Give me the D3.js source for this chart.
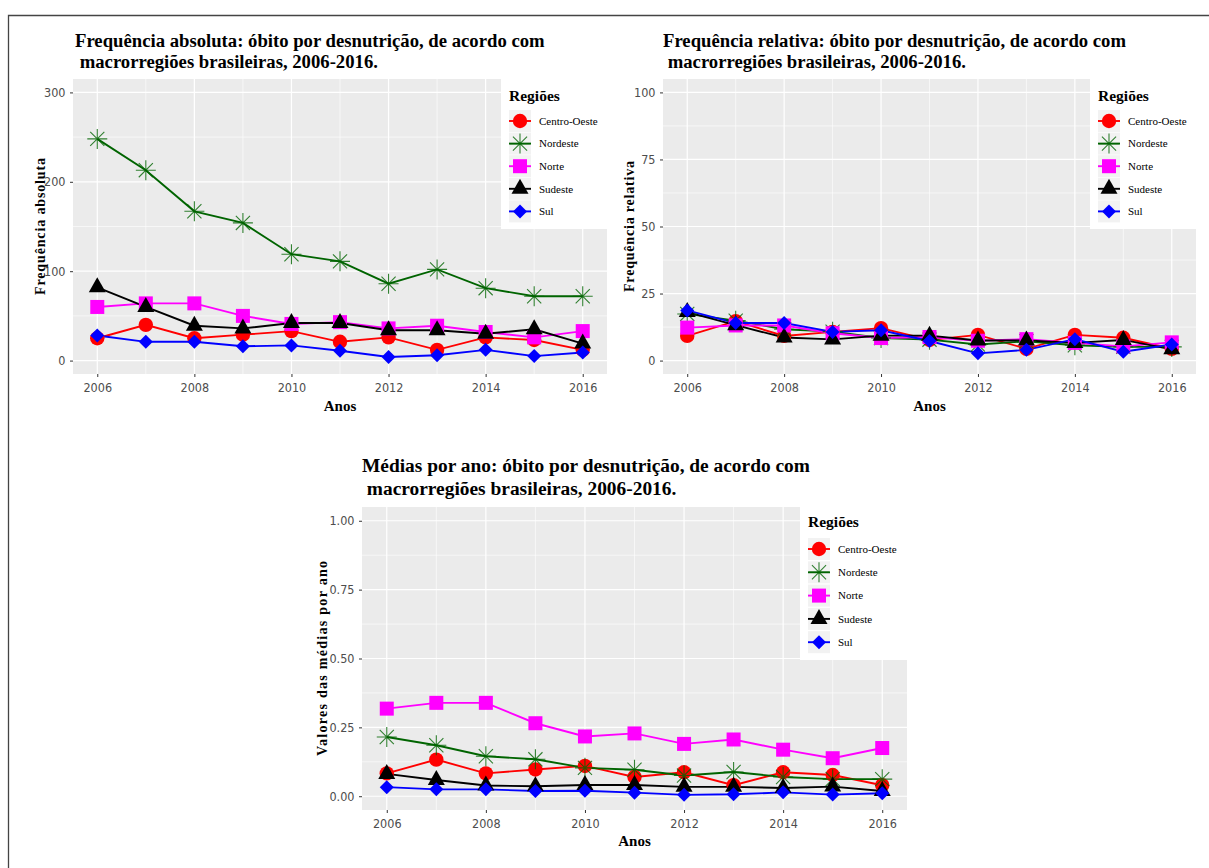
<!DOCTYPE html>
<html>
<head>
<meta charset="utf-8">
<script src="https://cdn.jsdelivr.net/npm/d3@7"></script>
<style>
  body { margin: 0; background: #ffffff; }
  svg { display: block; }
</style>
</head>
<body>
<svg id="fig" width="1209" height="868"></svg>
<script>
// ---- Dados ----
const anos = [2006, 2007, 2008, 2009, 2010, 2011, 2012, 2013, 2014, 2015, 2016];
const regioes = ["Centro-Oeste", "Nordeste", "Norte", "Sudeste", "Sul"];

// Frequência absoluta de óbitos
const absCentroOeste = [25, 40, 25, 29, 33, 21, 26, 12, 26, 23, 12];
const absNordeste    = [248, 213, 167, 154, 119, 111, 86, 102, 81, 72, 72];
const absNorte       = [60, 64, 64, 50, 41, 43, 36, 39, 32, 26, 33];
const absSudeste     = [82, 60, 39, 36, 42, 42, 34, 34, 30, 35, 19];
const absSul         = [28, 21, 21, 16, 17, 11, 4, 6, 12, 5, 9];

// Frequência relativa (%)
const relCentroOeste = [9.2, 14.7, 9.2, 10.7, 12.1, 7.7, 9.6, 4.4, 9.6, 8.5, 4.4];
const relNordeste    = [17.4, 14.9, 11.7, 10.8, 8.4, 7.8, 6.0, 7.2, 5.7, 5.1, 5.1];
const relNorte       = [12.3, 13.1, 13.1, 10.2, 8.4, 8.8, 7.4, 8.0, 6.6, 5.3, 6.8];
const relSudeste     = [18.1, 13.2, 8.6, 7.9, 9.3, 9.3, 7.5, 7.5, 6.6, 7.7, 4.2];
const relSul         = [18.7, 14.0, 14.0, 10.7, 11.3, 7.3, 2.7, 4.0, 8.0, 3.3, 6.0];

// Médias por ano
const medCentroOeste = [0.083, 0.133, 0.083, 0.097, 0.110, 0.070, 0.087, 0.040, 0.087, 0.077, 0.040];
const medNordeste    = [0.215, 0.185, 0.145, 0.134, 0.103, 0.096, 0.075, 0.088, 0.070, 0.062, 0.062];
const medNorte       = [0.318, 0.339, 0.339, 0.265, 0.217, 0.228, 0.190, 0.206, 0.169, 0.138, 0.175];
const medSudeste     = [0.081, 0.059, 0.039, 0.036, 0.041, 0.041, 0.034, 0.034, 0.030, 0.035, 0.019];
const medSul         = [0.033, 0.025, 0.025, 0.019, 0.020, 0.013, 0.005, 0.007, 0.014, 0.006, 0.011];

// Rótulos dos eixos
const ticksAnos = [2006, 2008, 2010, 2012, 2014, 2016];
const ticksAbs  = [0, 100, 200, 300];
const ticksRel  = [0, 25, 50, 75, 100];
const ticksMed  = [0, 0.25, 0.5, 0.75, 1];

// ---- Estilo ----
const cor = d3.scaleOrdinal().domain(regioes)
  .range(["#FF0000", "#006400", "#FF00FF", "#000000", "#0000FF"]);
const forma = d3.scaleOrdinal().domain(regioes)
  .range(["circle", "asterisk", "square", "triangle", "diamond"]);

const SERIF = "'Liberation Serif', 'Times New Roman', serif";
const NARROW = "'Liberation Sans Narrow', 'DejaVu Sans Condensed', 'Arial Narrow', sans-serif";

const svg = d3.select("#fig");

// moldura externa
svg.append("path")
  .attr("d", "M8.5,868 V15.5 H1209")
  .attr("fill", "none").attr("stroke", "#444").attr("stroke-width", 1.3);

function marcador(g, tipo, cx, cy, c) {
  if (tipo === "circle") {
    g.append("circle").attr("cx", cx).attr("cy", cy).attr("r", 7.2).attr("fill", c);
  } else if (tipo === "square") {
    g.append("rect").attr("x", cx - 7).attr("y", cy - 7).attr("width", 14).attr("height", 14).attr("fill", c);
  } else if (tipo === "triangle") {
    g.append("path").attr("d", `M${cx},${cy - 10}L${cx + 8.5},${cy + 5}L${cx - 8.5},${cy + 5}Z`).attr("fill", c);
  } else if (tipo === "diamond") {
    g.append("path").attr("d", `M${cx},${cy - 7}L${cx + 7},${cy}L${cx},${cy + 7}L${cx - 7},${cy}Z`).attr("fill", c);
  } else if (tipo === "asterisk") {
    const a = 10, b = 7.07;
    g.append("path")
      .attr("d", `M${cx - a},${cy}H${cx + a}M${cx},${cy - a}V${cy + a}` +
                 `M${cx - b},${cy - b}L${cx + b},${cy + b}M${cx - b},${cy + b}L${cx + b},${cy - b}`)
      .attr("stroke", c).attr("stroke-width", 1.1).attr("stroke-opacity", 0.8).attr("fill", "none");
  }
}

function grafico(cfg) {
  const g = svg.append("g");
  const x = d3.scaleLinear().domain([2005.5, 2016.5]).range([cfg.left, cfg.right]);
  const lo = cfg.yTicks[0], hi = cfg.yTicks[cfg.yTicks.length - 1];
  const pad = (hi - lo) * 0.05;
  const y = d3.scaleLinear().domain([lo - pad, hi + pad]).range([cfg.bottom, cfg.top]);

  // painel
  g.append("rect").attr("x", cfg.left).attr("y", cfg.top)
    .attr("width", cfg.right - cfg.left).attr("height", cfg.bottom - cfg.top)
    .attr("fill", "#EBEBEB");

  const xMinor = d3.pairs(ticksAnos).map(([a, b]) => (a + b) / 2);
  const yMinor = d3.pairs(cfg.yTicks).map(([a, b]) => (a + b) / 2);

  const grade = g.append("g").attr("stroke", "#FFFFFF");
  xMinor.forEach(v => grade.append("line").attr("x1", x(v)).attr("x2", x(v))
    .attr("y1", cfg.top).attr("y2", cfg.bottom).attr("stroke-width", 0.6));
  yMinor.forEach(v => grade.append("line").attr("y1", y(v)).attr("y2", y(v))
    .attr("x1", cfg.left).attr("x2", cfg.right).attr("stroke-width", 0.6));
  ticksAnos.forEach(v => grade.append("line").attr("x1", x(v)).attr("x2", x(v))
    .attr("y1", cfg.top).attr("y2", cfg.bottom).attr("stroke-width", 1.2));
  cfg.yTicks.forEach(v => grade.append("line").attr("y1", y(v)).attr("y2", y(v))
    .attr("x1", cfg.left).attr("x2", cfg.right).attr("stroke-width", 1.2));

  // linhas
  const linha = d3.line().x((d, i) => x(anos[i])).y(d => y(d));
  cfg.series.forEach((s, k) => {
    g.append("path").attr("d", linha(s)).attr("fill", "none")
      .attr("stroke", cor(regioes[k])).attr("stroke-width", 1.9);
  });
  // pontos
  cfg.series.forEach((s, k) => {
    const gp = g.append("g");
    s.forEach((v, i) => marcador(gp, forma(regioes[k]), x(anos[i]), y(v), cor(regioes[k])));
  });

  // eixos
  const ax = g.append("g").attr("transform", `translate(0,${cfg.bottom})`)
    .call(d3.axisBottom(x).tickValues(ticksAnos).tickFormat(d3.format("d")).tickSize(3).tickPadding(6));
  const ay = g.append("g").attr("transform", `translate(${cfg.left},0)`)
    .call(d3.axisLeft(y).tickValues(cfg.yTicks).tickFormat(cfg.fmt).tickSize(3).tickPadding(4.5));
  [ax, ay].forEach(a => {
    a.select(".domain").remove();
    a.selectAll(".tick line").attr("stroke", "#333333").attr("stroke-width", 1);
    a.selectAll(".tick text").attr("fill", "#4D4D4D")
      .style("font-family", NARROW).style("font-size", cfg.tickSize + "px");
  });

  // títulos
  cfg.title.forEach((t, i) => {
    g.append("text").attr("x", cfg.titleX).attr("y", cfg.titleY[i])
      .attr("xml:space", "preserve")
      .style("font-family", SERIF).style("font-weight", "bold").style("font-size", cfg.titleSize + "px")
      .text(t);
  });
  g.append("text").attr("x", (cfg.left + cfg.right) / 2).attr("y", cfg.xTitleY)
    .attr("text-anchor", "middle")
    .style("font-family", SERIF).style("font-weight", "bold").style("font-size", "15px")
    .text("Anos");
  g.append("text")
    .attr("transform", `translate(${cfg.yTitleX},${(cfg.top + cfg.bottom) / 2}) rotate(-90)`)
    .attr("text-anchor", "middle")
    .attr("textLength", cfg.yTitleLen).attr("lengthAdjust", "spacing")
    .style("font-family", SERIF).style("font-weight", "bold").style("font-size", "14px")
    .text(cfg.yTitle);

  // legenda
  const L = cfg.legend;
  const gl = g.append("g");
  gl.append("rect").attr("x", L.x).attr("y", L.y).attr("width", L.w).attr("height", L.h).attr("fill", "#FFFFFF");
  gl.append("text").attr("x", L.x + 8).attr("y", L.y + L.titleDy)
    .style("font-family", SERIF).style("font-weight", "bold").style("font-size", "15.5px")
    .text("Regiões");
  regioes.forEach((r, i) => {
    const cy = L.y + L.first + i * L.step;
    gl.append("rect").attr("x", L.x + 8).attr("y", cy - 11).attr("width", 22).attr("height", 22).attr("fill", "#F2F2F2");
    gl.append("line").attr("x1", L.x + 8).attr("x2", L.x + 30).attr("y1", cy).attr("y2", cy)
      .attr("stroke", cor(r)).attr("stroke-width", 1.9);
    marcador(gl, forma(r), L.x + 19, cy, cor(r));
    gl.append("text").attr("x", L.x + 38).attr("y", cy).attr("dy", "0.35em")
      .style("font-family", SERIF).style("font-size", "11px").text(r);
  });
}

grafico({
  left: 73, right: 607, top: 79, bottom: 374,
  yTicks: ticksAbs, fmt: d3.format("d"), tickSize: 12.5,
  series: [absCentroOeste, absNordeste, absNorte, absSudeste, absSul],
  title: ["Frequência absoluta: óbito por desnutrição, de acordo com", " macrorregiões brasileiras, 2006-2016."],
  titleX: 75, titleY: [47, 68], titleSize: 18.7,
  xTitleY: 411, yTitle: "Frequência absoluta", yTitleX: 45, yTitleLen: 137,
  legend: { x: 501, y: 79, w: 106, h: 150, titleDy: 22, first: 42, step: 22.6 }
});

grafico({
  left: 663, right: 1196, top: 79, bottom: 374,
  yTicks: ticksRel, fmt: d3.format("d"), tickSize: 12.5,
  series: [relCentroOeste, relNordeste, relNorte, relSudeste, relSul],
  title: ["Frequência relativa: óbito por desnutrição, de acordo com", " macrorregiões brasileiras, 2006-2016."],
  titleX: 663, titleY: [47, 68], titleSize: 18.7,
  xTitleY: 411, yTitle: "Frequência relativa", yTitleX: 634, yTitleLen: 131,
  legend: { x: 1090, y: 79, w: 106, h: 150, titleDy: 22, first: 42, step: 22.6 }
});

grafico({
  left: 362, right: 907, top: 507, bottom: 810,
  yTicks: ticksMed, fmt: d3.format(".2f"), tickSize: 12.5,
  series: [medCentroOeste, medNordeste, medNorte, medSudeste, medSul],
  title: ["Médias por ano: óbito por desnutrição, de acordo com", " macrorregiões brasileiras, 2006-2016."],
  titleX: 362, titleY: [472, 495], titleSize: 19.4,
  xTitleY: 846, yTitle: "Valores das médias por ano", yTitleX: 327, yTitleLen: 195,
  legend: { x: 800, y: 505, w: 107, h: 155, titleDy: 22, first: 44, step: 23.3 }
});
</script>
</body>
</html>
